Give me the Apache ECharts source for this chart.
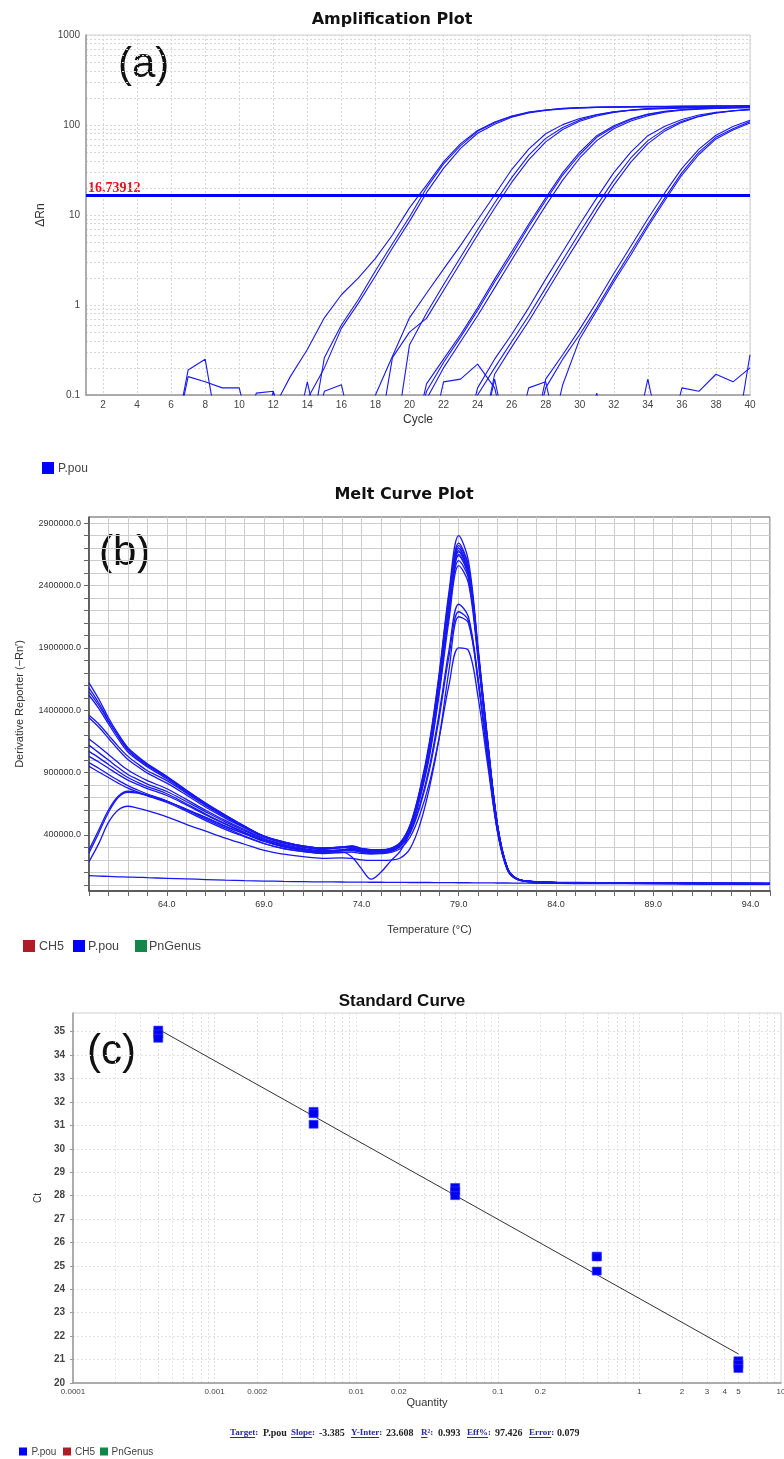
<!DOCTYPE html>
<html><head><meta charset="utf-8">
<script src="https://cdn.jsdelivr.net/npm/echarts@6/dist/echarts.min.js"></script>
<style>html,body{margin:0;padding:0;background:#fff}#c{width:784px;height:1459px}</style>
</head><body><div id="c"></div>
<script>
// ---------- (a) Amplification plot data ----------
const cycles = [1,2,3,4,5,6,7,8,9,10,11,12,13,14,15,16,17,18,19,20,21,22,23,24,25,26,27,28,29,30,31,32,33,34,35,36,37,38,39,40];
const THRESHOLD = 16.73912;
const O = 0.02; // below the visible range (off-scale)
const ampG1a = [O,O,O,O,O,O,O,O,O,O,O,0.07,0.16,0.32,0.72,1.3,2.0,3.3,6.0,12,21.5,39,62,87,108,126,139,147,153,156,158,159,160,161,161,162,162,163,163,164];
const ampG1b = [O,O,O,O,O,O,O,O,O,O,O,O,O,O,0.26,0.6,1.15,2.4,4.8,9.5,20,37,59,85,106,124,138,147,152,155,157,158,159,160,160,161,161,162,162,163];
const ampG1c = [O,O,O,O,O,O,O,O,O,O,O,O,O,0.09,0.2,0.55,1.05,2.1,4.3,8.5,17.7,33,55,81,102,122,136,145,151,155,157,158,159,159,160,160,161,161,161,162];
const ampG2a = [O,O,O,O,O,O,O,O,O,O,O,O,O,O,O,O,O,0.1,0.27,0.72,1.35,2.5,4.6,8.8,16.7,32,54,80,101,118,131,140,146,150,152,154,155,156,157,157];
const ampG2b = [O,O,O,O,O,O,O,O,O,O,O,O,O,O,O,O,O,O,O,0.36,0.81,1.68,3.4,6.9,13.6,26,46,71,94,114,129,140,147,152,155,157,158,159,159,160];
const ampG2c = [O,O,O,O,O,O,O,O,O,O,O,O,O,O,O,O,O,O,0.26,0.5,0.71,1.45,2.95,6.0,11.9,23,41,65,89,110,126,138,146,151,154,156,157,158,158,159];
const ampG3a = [O,O,O,O,O,O,O,O,O,O,O,O,O,O,O,O,O,O,O,O,0.133,0.25,0.47,0.93,1.94,3.9,7.9,15.5,29.6,50,76,98,117,132,142,148,152,154,156,157];
const ampG3b = [O,O,O,O,O,O,O,O,O,O,O,O,O,O,O,O,O,O,O,O,0.11,0.23,0.44,0.87,1.8,3.6,7.4,14.5,27.8,47,73,95,115,131,141,148,152,155,156,157];
const ampG3c = [O,O,O,O,O,O,O,O,O,O,O,O,O,O,O,O,O,O,O,O,0.09,0.2,0.39,0.76,1.55,3.16,6.4,12.7,24.4,43,67,91,111,127,139,146,150,153,155,156];
const ampG4a = [O,O,O,O,O,O,O,O,O,O,O,O,O,O,O,O,O,O,O,O,O,O,O,0.12,0.25,0.47,0.93,1.94,3.9,7.9,15.5,29.6,50,76,97,115,129,138,144,148];
const ampG4b = [O,O,O,O,O,O,O,O,O,O,O,O,O,O,O,O,O,O,O,O,O,O,O,0.1,0.2,0.39,0.76,1.55,3.16,6.4,12.7,24.4,43,67,90,110,125,136,143,148];
const ampG4c = [O,O,O,O,O,O,O,O,O,O,O,O,O,O,O,O,O,O,O,O,O,O,O,O,0.17,0.34,0.66,1.34,2.75,5.5,11.1,21.5,38.7,62,86,107,124,136,144,150];
const ampG5a = [O,O,O,O,O,O,O,O,O,O,O,O,O,O,O,O,O,O,O,O,O,O,O,O,O,O,O,0.15,0.28,0.54,1.08,2.24,4.5,9.1,17.7,33,54,77,96,113];
const ampG5b = [O,O,O,O,O,O,O,O,O,O,O,O,O,O,O,O,O,O,O,O,O,O,O,O,O,O,O,0.12,0.25,0.47,0.93,1.94,3.9,7.9,15.5,29.6,50,73,91,109];
const ampG5c = [O,O,O,O,O,O,O,O,O,O,O,O,O,O,O,O,O,O,O,O,O,O,O,O,O,O,O,O,0.13,0.42,0.87,1.8,3.6,7.4,14.5,27.8,47,70,88,105];
const noiseA = [O,O,O,O,O,O,0.19,0.25,O,O,O,O,O,0.14,O,O,O,O,O,O,O,0.14,0.15,0.22,0.12,O,O,O,O,O,O,O,O,0.15,O,0.12,0.11,0.17,0.14,0.2];
const noiseB = [O,O,O,O,O,O,0.16,0.14,0.12,0.12,O,0.11,O,O,0.11,0.13,O,O,O,O,O,O,O,O,0.15,O,0.12,0.14,O,O,0.105,O,O,O,O,O,O,O,O,0.28];
const noiseC = [O,O,O,O,O,O,O,O,O,O,0.105,0.11,O,O,O,O,O,O,O,O,O,O,O,O,O,O,O,O,O,O,O,O,O,O,O,O,O,O,O,O];
const ampXLabels = [2,4,6,8,10,12,14,16,18,20,22,24,26,28,30,32,34,36,38,40];
const ampYLabels = [0.1,1,10,100,1000];

// ---------- (b) Melt curve data (values in thousands) ----------
const meltTemps = [60,60.5,61,61.5,62,62.5,63,64,65,66,67,68,69,70,71,72,73,73.5,74,74.5,75,75.5,76,76.5,77,77.5,78,78.5,79,79.5,80,80.5,81,81.5,82,83,85,90,95];
const meltNTC = [73,70,67,64,62,60,57,52,47,42,37,33,30,27,25,23,22,21,21,20,20,19,19,18,18,18,17,17,16,16,15,15,14,14,13,12,10,8,6];
const meltM1 = [1620,1490,1340,1210,1100,1030,970,870,760,655,560,470,390,345,312,295,302,312,292,282,282,292,340,480,760,1150,1700,2350,2800,2600,1900,1150,480,140,50,25,18,12,10];
const meltM2 = [1550,1440,1310,1190,1080,1010,955,860,750,648,555,466,388,342,310,293,300,308,288,278,278,290,336,472,745,1125,1665,2300,2740,2560,1880,1130,470,135,48,24,17,12,10];
const meltM3 = [1520,1415,1290,1170,1065,1000,945,850,742,640,548,460,383,338,306,290,304,302,282,272,273,286,332,462,732,1105,1645,2270,2700,2520,1860,1120,470,135,48,24,17,12,10];
const meltM4 = [1360,1290,1200,1110,1030,970,915,835,735,635,545,462,386,338,305,286,300,300,280,270,270,285,330,452,722,1082,1612,2232,2670,2500,1850,1110,460,130,46,23,16,11,9];
const meltM5 = [1340,1265,1175,1085,1005,948,895,815,720,622,535,456,381,334,301,283,296,296,276,266,268,281,326,442,702,1052,1562,2172,2600,2460,1830,1100,460,130,46,23,16,11,9];
const meltM6 = [1170,1110,1045,980,920,875,835,770,685,598,516,442,371,324,292,274,282,284,266,259,260,271,311,421,641,951,1381,1881,2250,2150,1650,1020,430,125,45,22,16,11,9];
const meltM7 = [1070,1020,965,910,860,822,788,730,650,568,491,421,356,312,283,266,276,279,263,256,258,268,306,411,621,921,1341,1831,2190,2120,1640,1010,430,125,45,22,16,11,9];
const meltM8 = [1030,985,935,885,840,805,772,716,641,561,486,416,351,307,281,264,273,277,261,253,256,269,316,441,711,1071,1591,2201,2640,2480,1840,1100,460,130,46,23,16,11,9];
const meltM9 = [980,935,885,838,795,760,728,672,602,527,456,391,331,291,266,251,259,263,251,246,249,259,291,381,561,821,1181,1601,1900,1880,1500,950,420,120,44,22,15,10,8];
const meltM10 = [280,440,600,710,750,740,720,672,607,541,471,411,351,306,279,263,276,291,273,263,263,276,321,451,721,1091,1621,2251,2700,2520,1860,1120,470,135,48,24,17,12,10];
const meltM11 = [185,330,500,600,630,615,595,545,485,430,375,325,275,245,225,212,215,212,200,195,195,198,215,290,480,780,1180,1720,2150,2100,1620,1000,420,120,44,22,15,10,8];
const meltM12 = [950,905,860,815,775,745,715,660,590,515,445,385,330,290,268,255,262,225,130,45,100,190,270,420,700,1060,1580,2200,2650,2480,1840,1100,460,130,46,23,16,11,9];
const meltM13 = [1580,1460,1320,1195,1090,1020,962,865,755,652,558,468,390,344,311,294,301,310,290,280,280,291,338,476,750,1130,1680,2320,2720,2550,1870,1130,470,135,48,24,17,12,10];
const meltM14 = [1120,1060,1000,940,885,845,808,748,668,585,505,433,364,317,287,269,279,281,265,257,259,271,313,431,691,1031,1531,2121,2560,2420,1800,1090,455,128,46,23,16,11,9];
const meltM15 = [255,415,580,700,742,735,714,668,603,538,468,408,348,304,277,261,274,288,271,261,262,274,318,445,712,1080,1605,2230,2680,2505,1850,1115,465,133,47,23,16,11,9];
const meltXLabels = [64,69,74,79,84,89,94];
const meltYLabels = [400000,900000,1400000,1900000,2400000,2900000];

// ---------- (c) Standard curve data ----------
const stdQty = [0.0004,0.0004,0.0004,0.005,0.005,0.005,0.05,0.05,0.05,0.5,0.5,0.5,5,5,5];
const stdCt = [35.07,34.9,34.72,31.6,31.5,31.05,28.35,28.2,28.0,25.42,25.38,24.78,20.95,20.8,20.62];
const stdSlope = -3.385, stdIntercept = 23.608, stdR2 = 0.993, stdEff = 97.426, stdError = 0.079;
const stdXLabels = [0.0001,0.001,0.002,0.01,0.02,0.1,0.2,1,2,3,4,5,10];
const stdYLabels = [20,21,22,23,24,25,26,27,28,29,30,31,32,33,34,35];

// ---------- helpers (axis grid values) ----------
function logGrid(e0, e1){ const v=[]; for(let e=e0;e<e1;e++) for(let k=1;k<10;k++) v.push(+(k*Math.pow(10,e)).toPrecision(3)); v.push(Math.pow(10,e1)); return v; }
const ampYGrid = logGrid(-1,3);
const stdXGrid = logGrid(-4,1);
const meltYTicks = []; for(let v=0; v<=2900000; v+=100000) meltYTicks.push(v);

const FONT = 'Liberation Sans, Arial, sans-serif';
const BLUE = '#1818f2';

const series = [];
const ampCurves = [ampG1a,ampG1b,ampG1c,ampG2a,ampG2b,ampG2c,ampG3a,ampG3b,ampG3c,ampG4a,ampG4b,ampG4c,ampG5a,ampG5b,ampG5c,noiseA,noiseB,noiseC];
ampCurves.forEach((arr, idx) => {
  const s = {type:'line', xAxisIndex:0, yAxisIndex:0, data: cycles.map((c,i)=>[c, arr[i]]),
    symbol:'none', showSymbol:false, silent:true, animation:false, clip:true,
    lineStyle:{color:BLUE, width:1.1}};
  if (idx === 0) {
    s.markLine = {silent:true, symbol:'none', animation:false, label:{show:false},
      lineStyle:{color:'#0000ff', width:3, type:'solid'}, data:[{yAxis: THRESHOLD}]};
  }
  series.push(s);
});
const meltCurves = [meltNTC,meltM1,meltM2,meltM3,meltM4,meltM5,meltM6,meltM7,meltM8,meltM9,meltM10,meltM11,meltM12,meltM13,meltM14,meltM15];
meltCurves.forEach(arr => {
  series.push({type:'line', xAxisIndex:1, yAxisIndex:1, data: meltTemps.map((t,i)=>[t, arr[i]*1000]),
    symbol:'none', showSymbol:false, silent:true, animation:false, clip:true, smooth:0.35,
    lineStyle:{color:BLUE, width:1.3}});
});
const qMin = Math.min(...stdQty), qMax = Math.max(...stdQty);
series.push({type:'line', xAxisIndex:2, yAxisIndex:2, z:2,
  data:[qMin,qMax].map(q=>[q, stdIntercept + stdSlope*Math.log10(q)]),
  symbol:'none', silent:true, animation:false, lineStyle:{color:'#333', width:1}});
series.push({type:'scatter', xAxisIndex:2, yAxisIndex:2, z:3,
  data: stdQty.map((q,i)=>[q, stdCt[i]]), symbol:'rect', symbolSize:[9,8], silent:true, animation:false,
  itemStyle:{color:'#0000f0', borderColor:'#3838ff', borderWidth:0.6, opacity:1}});

// ---------- text/graphics ----------
const mctx = document.createElement('canvas').getContext('2d');
function textW(t, font){ mctx.font = font; return mctx.measureText(t).width; }
const graphic = [];
function txt(x,y,t,o){ graphic.push({type:'text', x, y, silent:true, style:Object.assign({text:t, fill:'#111', fontFamily:FONT, fontSize:12, align:'left', verticalAlign:'middle'}, o||{})}); }
function rect(x,y,w,h,c){ graphic.push({type:'rect', silent:true, shape:{x,y,width:w,height:h}, style:{fill:c}}); }

txt(392,20,'Amplification Plot',{fontFamily:'DejaVu Sans', fontWeight:'bold', fontSize:16, align:'center'});
txt(404,495,'Melt Curve Plot',{fontFamily:'DejaVu Sans', fontWeight:'bold', fontSize:16, align:'center'});
txt(402,1001,'Standard Curve',{fontWeight:'bold', fontSize:17, align:'center'});
txt(118,65,'(a)',{fontSize:42});
txt(99,553,'(b)',{fontSize:42});
txt(87,1052,'(c)',{fontSize:42});
txt(88,188.8,String(THRESHOLD),{fontFamily:'Liberation Serif, serif', fontWeight:'bold', fontSize:14, fill:'#e8101a'});

// legends
rect(42,462,12,12,'#0000ff'); txt(58,468.5,'P.pou',{fontSize:12, fill:'#444'});
rect(23,940,12,12,'#b01c26'); txt(39,946.5,'CH5',{fontSize:12.5, fill:'#444'});
rect(73,940,12,12,'#0000ff'); txt(88,946.5,'P.pou',{fontSize:12.5, fill:'#444'});
rect(135,940,12,12,'#13874a'); txt(149,946.5,'PnGenus',{fontSize:12.5, fill:'#444'});
rect(19,1447.5,8,8,'#0000ff'); txt(31.5,1452,'P.pou',{fontSize:10, fill:'#444'});
rect(63,1447.5,8,8,'#b01c26'); txt(75,1452,'CH5',{fontSize:10, fill:'#444'});
rect(100,1447.5,8,8,'#13874a'); txt(111.5,1452,'PnGenus',{fontSize:10, fill:'#444'});

// stats line
const statItems = [
  {label:'Target', tail:':', value:'P.pou', lx:230, vx:263},
  {label:'Slope', tail:':', value:stdSlope.toFixed(3), lx:291, vx:319},
  {label:'Y-Inter', tail:':', value:stdIntercept.toFixed(3), lx:351, vx:386},
  {label:'R', tail:'²:', value:stdR2.toFixed(3), lx:421, vx:438},
  {label:'Eff%', tail:':', value:stdEff.toFixed(3), lx:467, vx:495},
  {label:'Error', tail:':', value:stdError.toFixed(3), lx:529, vx:557}
];
const SY = 1433;
const lfont = 'bold 9px Liberation Serif';
statItems.forEach(it => {
  txt(it.lx, SY, it.label + it.tail, {fontFamily:'Liberation Serif, serif', fontWeight:'bold', fontSize:9, fill:'#2a2a9a'});
  const w = textW(it.label, lfont);
  graphic.push({type:'line', silent:true, shape:{x1:it.lx, y1:SY+4.5, x2:it.lx+w, y2:SY+4.5}, style:{stroke:'#2a2a9a', lineWidth:1}});
  txt(it.vx, SY, it.value, {fontFamily:'Liberation Serif, serif', fontWeight:'bold', fontSize:10, fill:'#222'});
});

const dashGrid = {show:true, lineStyle:{color:'#d6d6d6', width:1, type:[2,2]}};
const option = {
  animation:false,
  textStyle:{fontFamily:FONT},
  grid:[
    {left:86, top:35, width:664, height:360, show:true, borderColor:'#cfcfcf', borderWidth:1, backgroundColor:'#fff', containLabel:false, outerBoundsMode:'none'},
    {left:89, top:517, width:681, height:374, show:true, borderColor:'#555', borderWidth:1, backgroundColor:'#fff', containLabel:false, outerBoundsMode:'none'},
    {left:73, top:1013, width:708, height:370, show:true, borderColor:'#d0d0d0', borderWidth:1, backgroundColor:'#fff', containLabel:false, outerBoundsMode:'none'}
  ],
  xAxis:[
    {gridIndex:0, type:'value', min:1, max:40,
      axisLine:{show:true, onZero:false, lineStyle:{color:'#999', width:1.5}},
      axisTick:{show:false, customValues:ampXLabels},
      axisLabel:{customValues:ampXLabels, fontSize:10, color:'#444', margin:5, hideOverlap:false},
      splitLine:dashGrid, minorSplitLine:{show:false},
      name:'Cycle', nameLocation:'middle', nameGap:19, nameTextStyle:{fontSize:12, color:'#333'}},
    {gridIndex:1, type:'value', min:60, max:95, interval:1,
      axisLine:{show:true, onZero:false, lineStyle:{color:'#444', width:1.5}},
      axisTick:{show:true, length:5, lineStyle:{color:'#666'}},
      axisLabel:{customValues:meltXLabels, formatter:v=>Number(v).toFixed(1), fontSize:9, color:'#333', margin:9, hideOverlap:false},
      splitLine:{show:true, lineStyle:{color:'#cdcdcd', width:1}},
      name:'Temperature (°C)', nameLocation:'middle', nameGap:33, nameTextStyle:{fontSize:11, color:'#333'}},
    {gridIndex:2, type:'log', logBase:10, min:0.0001, max:10,
      axisLine:{show:true, onZero:false, lineStyle:{color:'#999', width:1.5}},
      axisTick:{show:false, customValues:stdXGrid},
      axisLabel:{customValues:stdXLabels, formatter:v=>String(+Number(v).toPrecision(4)), fontSize:8, color:'#444', margin:5, hideOverlap:false},
      splitLine:{show:true, lineStyle:{color:'#e0e0e0', width:1, type:[2,2]}},
      name:'Quantity', nameLocation:'middle', nameGap:14, nameTextStyle:{fontSize:11, color:'#333'}}
  ],
  yAxis:[
    {gridIndex:0, type:'log', logBase:10, min:0.1, max:1000,
      axisLine:{show:true, onZero:false, lineStyle:{color:'#999', width:1.5}},
      axisTick:{show:false, customValues:ampYGrid},
      axisLabel:{customValues:ampYLabels, formatter:v=>String(+Number(v).toPrecision(4)), fontSize:10, color:'#444', margin:6, hideOverlap:false},
      splitLine:dashGrid,
      name:'ΔRn', nameLocation:'middle', nameGap:35, nameTextStyle:{fontSize:12, color:'#333'}},
    {gridIndex:1, type:'value', min:-50000, max:2950000,
      axisLine:{show:true, onZero:false, lineStyle:{color:'#444', width:1.5}},
      axisTick:{show:true, length:5, customValues:meltYTicks, lineStyle:{color:'#666'}},
      axisLabel:{customValues:meltYLabels, formatter:v=>Number(v).toFixed(1), fontSize:9, color:'#333', margin:8, hideOverlap:false},
      splitLine:{show:true, lineStyle:{color:'#cdcdcd', width:1}},
      name:'Derivative Reporter (−Rn′)', nameLocation:'middle', nameGap:64, nameTextStyle:{fontSize:11, color:'#333'}},
    {gridIndex:2, type:'value', min:20, max:35.8,
      axisLine:{show:true, onZero:false, lineStyle:{color:'#999', width:1.5}},
      axisTick:{show:true, length:3, customValues:stdYLabels, lineStyle:{color:'#999'}},
      axisLabel:{customValues:stdYLabels, fontSize:10, fontWeight:'bold', color:'#444', margin:8, hideOverlap:false},
      splitLine:{show:true, lineStyle:{color:'#e0e0e0', width:1, type:[2,2]}},
      name:'Ct', nameLocation:'middle', nameGap:27, nameTextStyle:{fontSize:10, color:'#333'}}
  ],
  series,
  graphic
};
const chart = echarts.init(document.getElementById('c'), null, {renderer:'canvas', width:784, height:1459});
chart.setOption(option);
</script>
</body></html>
